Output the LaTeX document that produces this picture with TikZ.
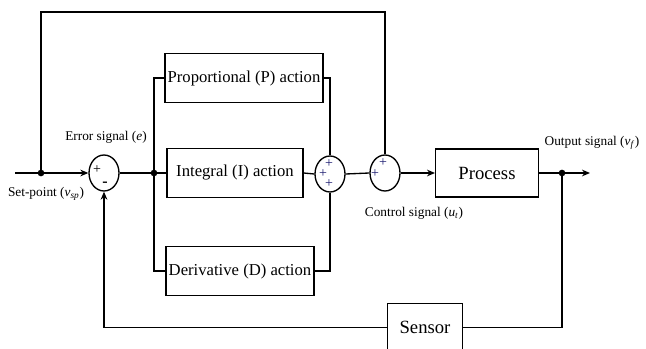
\documentclass[tikz,border=0pt]{standalone}
\usepackage{fontspec}
\setmainfont{Liberation Serif}
\usetikzlibrary{shapes.geometric, arrows.meta, positioning}
\definecolor{signblue}{RGB}{25,25,110}
\tikzstyle{block}  = [rectangle, draw=black, line width=1pt, minimum height=36.75pt,
                      inner sep=2pt, font=\fontsize{12.5}{14}\selectfont]
\tikzstyle{bigblock} = [block, minimum height=36pt, font=\fontsize{14}{16}\selectfont]
\tikzstyle{sumjn}  = [ellipse, draw=black, line width=1pt, minimum width=22.5pt,
                      minimum height=27pt, inner sep=0pt]
\tikzstyle{sgn}    = [inner sep=0pt, font=\fontsize{10.5}{10.5}\selectfont]
\tikzstyle{lbl}    = [inner sep=0pt, font=\fontsize{10}{12}\selectfont]
\tikzstyle{wire}   = [line width=1pt]
\tikzstyle{arrow}  = [wire,->,>={Stealth[length=6pt,width=5pt]}]
\tikzstyle{junc}   = [circle, fill=black, inner sep=0pt, minimum size=5pt]

\begin{document}
\begin{tikzpicture}[x=0.75pt, y=-0.75pt]
  \useasboundingbox (0,0) rectangle (646,349);

  % Summing junctions
  \node (s1) [sumjn] at (104,173) {};
  \node (s3) [sumjn] at (330,174) {};
  \node (s2) [sumjn] at (385,173) {};

  % Signs
  \node (s1p)  [sgn] at (97,170)  {+};
  \node (s1m)  [sgn, font=\fontsize{12}{12}\bfseries] at (105,184) {-};
  \node (s3pa) [sgn, signblue] at (329,164) {+};
  \node (s3pb) [sgn, signblue] at (323,174) {+};
  \node (s3pc) [sgn, signblue] at (329,184) {+};
  \node (s2pa) [sgn, signblue] at (383,163) {+};
  \node (s2pb) [sgn, signblue] at (375,174) {+};

  % PID blocks
  \node (pbox) [block, minimum width=115.5pt] at (244,78)  {Proportional (P) action};
  \node (ibox) [block, minimum width=102pt]   at (235,173) {Integral (I) action};
  \node (dbox) [block, minimum width=109.5pt] at (240,271) {Derivative (D) action};

  % Plant and feedback
  \node (proc) [bigblock, minimum width=77pt] at (487,173)   {Process};
  \node (sens) [bigblock, minimum width=56pt] at (425,327.5) {Sensor};

  % Branch points
  \node (tap)   [junc] at (41,173)  {};
  \node (split) [junc] at (154,173) {};
  \node (pick)  [junc] at (562,173) {};
  \coordinate (in)  at (15,173);
  \coordinate (top) at (41,12);
  \coordinate (out) at (590,173);

  % Forward path
  \draw[arrow] (in) -- (s1.west);
  \draw[wire] (s1.east) -- (ibox.west);
  \draw[wire] (pbox.west) -| (split.center) |- (dbox.west);
  \draw[wire] (pbox.east) -| (s3.north);
  \draw[wire] (ibox.east) -- (s3.west);
  \draw[wire] (dbox.east) -| (s3.south);
  \draw[wire] (s3.east) -- (s2.west);
  \draw[wire] (tap.center) -- (top) -| (s2.north);
  \draw[arrow] (s2.east) -- (proc.west);
  \draw[arrow] (proc.east) -- (out);

  % Feedback path
  \draw[wire] (pick.center) |- (sens.east);
  \draw[arrow] (sens.west) -| (s1.south);

  % Signal labels
  \node (lerr) [lbl] at (106,137) {Error signal (\textit{e})};
  \node (lsp)  [lbl] at (46,194)  {Set-point (\textit{v}\textsubscript{\textit{sp}})};
  \node (lctl) [lbl] at (414,213) {Control signal (\textit{u}\textsubscript{\textit{t}})};
  \node (lout) [lbl] at (592,143) {Output signal (\textit{v}\textsubscript{\textit{f}})};

\end{tikzpicture}
\end{document}
